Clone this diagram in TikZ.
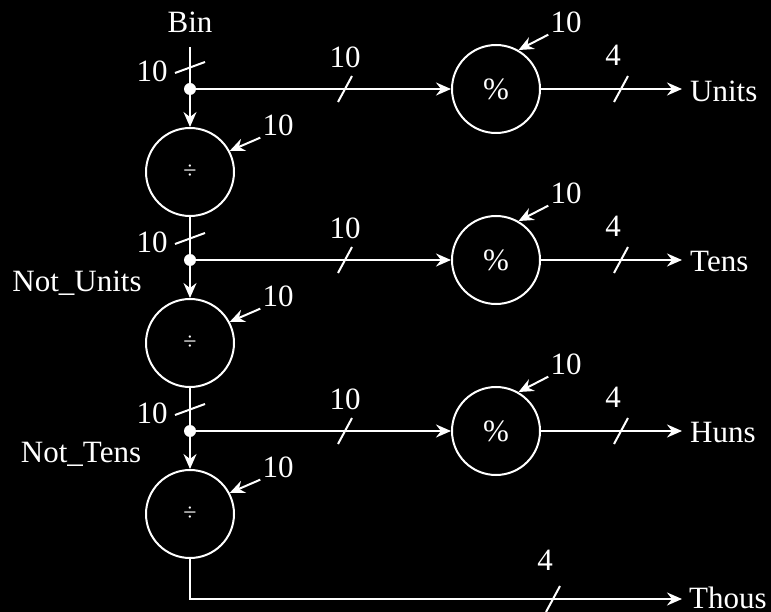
\documentclass[tikz,border=0pt]{standalone}
\usepackage{fontspec}
\setmainfont{Liberation Serif}
\usetikzlibrary{arrows.meta,calc}
\begin{document}
\begin{tikzpicture}[x=1pt,y=-1pt,
  every node/.style={text=white, font=\fontsize{31}{36}\selectfont, inner sep=2pt},
  wire/.style={draw=white, line width=2pt},
  arr/.style={wire, -{Stealth[length=15pt,width=13pt,inset=5pt]}},
  op/.style={circle, draw=white, line width=2pt, minimum size=88pt, inner sep=0pt},
  outlbl/.style={anchor=west, inner xsep=8pt, inner ysep=2pt},
  busmark/.style={draw=white, line width=2pt}]
\useasboundingbox[fill=black] (0,0) rectangle (771,612);

\node (bin) at (190,22) {Bin};
\coordinate (top) at (190,47);
\node (notunits) at (77,283) {Not\_Units};
\node (nottens) at (81,454) {Not\_Tens};

\foreach \i/\out in {0/Units,1/Tens,2/Huns}{
  \pgfmathsetmacro\o{171*\i}
  \coordinate (j\i) at (190,89+\o);
  \node[op] (mod\i) at (496,89+\o) {\%};
  \node[op] (div\i) at (190,172+\o) {\fontsize{24}{28}\selectfont ÷};
  \node[outlbl] (out\i) at (682,91+\o) {\out};
  \node (ml\i) at (566,22+\o) {10};
  \node (dl\i) at (278,125+\o) {10};
  \node (vl\i) at (152,71+\o) {10};
  \node (hl\i) at (345,57+\o) {10};
  \node (ol\i) at (613,55+\o) {4};
  \draw[arr] (j\i) -- (mod\i);
  \draw[arr] (j\i) -- (div\i);
  \draw[arr] (mod\i.east) -- (mod\i.east -| out\i.west);
  \draw[arr] (ml\i.south west) -- (mod\i.60);
  \draw[arr] (dl\i.south west) -- (div\i.28);
  \fill[white] (j\i) circle[radius=6pt];
  % bus-width marks
  \draw[busmark] (175,73+\o) -- (205,62+\o);
  \draw[busmark] (338,102+\o) -- (352,76+\o);
  \draw[busmark] (614,102+\o) -- (628,76+\o);
}

\draw[wire] (top) -- (j0);
\draw[wire] (div0.south) -- (j1);
\draw[wire] (div1.south) -- (j2);

\coordinate (corner) at (190,599);
\node[outlbl, inner xsep=7pt] (thous) at (682,598) {Thous};
\node (tl) at (545,560) {4};
\draw[arr] (div2.south) -- (corner) -- (corner -| thous.west);
\draw[busmark] (546,612) -- (560,586);
\end{tikzpicture}
\end{document}
